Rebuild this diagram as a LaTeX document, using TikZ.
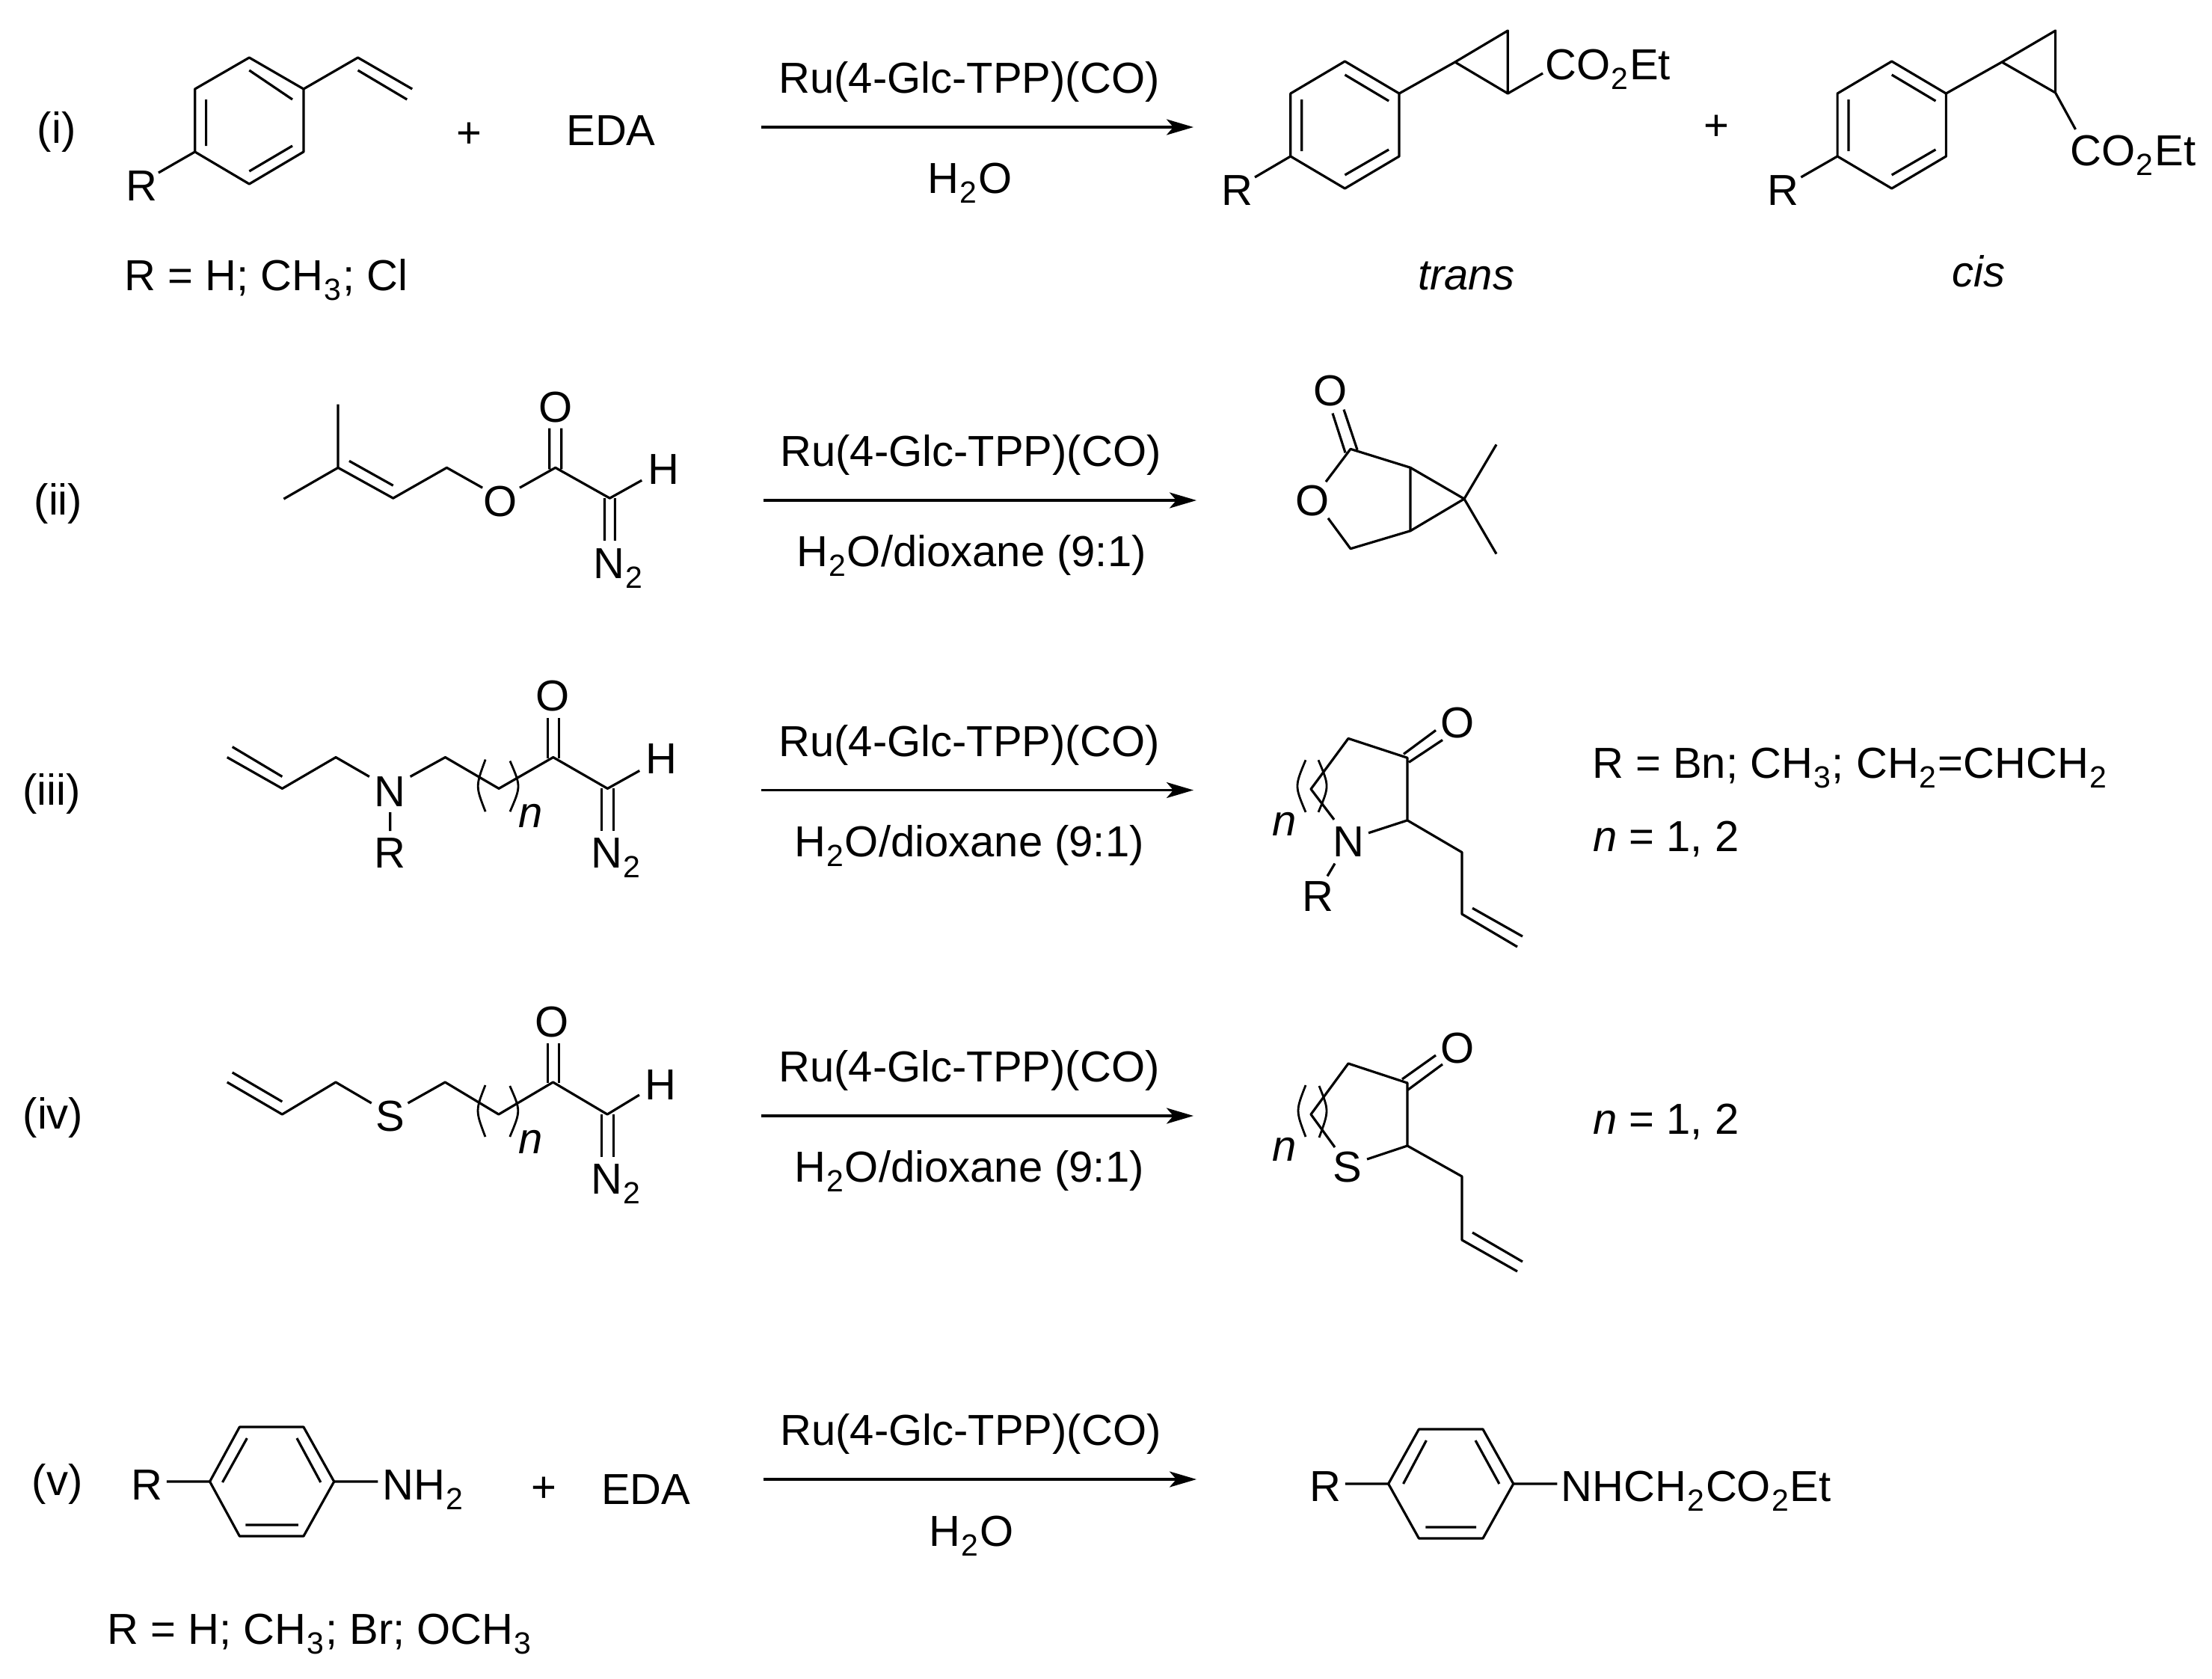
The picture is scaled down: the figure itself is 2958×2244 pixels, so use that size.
\documentclass[tikz,border=0pt]{standalone}
\usepackage{fontspec}
\setmainfont{Liberation Sans}
\usetikzlibrary{arrows.meta}
\newcommand\sbs[1]{\kern1pt\raisebox{-13pt}{\fontsize{41}{41}\selectfont #1}\kern2pt}
\tikzset{
 every node/.style={font=\fontsize{58}{62}\selectfont,inner sep=0pt,text=black},
 lab/.style={anchor=base},
 labw/.style={anchor=base west},
 bond/.style={draw=black,line width=3.2pt,line join=round},
 paren/.style={draw=black,line width=2.8pt},
 rxn/.style={draw=black,line width=3.6pt,-{Stealth[length=36pt,width=21pt,inset=9pt]}},
 fitx/.style={shift={(#1,0)},xscale=.995,shift={(-#1,0)}},
 fitxy/.style 2 args={shift={(#1,#2)},xscale=.9955,yscale=.9955,shift={(-#1,-#2)}},
 fity/.style={shift={(0,#1)},yscale=.995,shift={(0,-#1)}}
}
\begin{document}
\begin{tikzpicture}[x=1pt,y=-1pt]
\fill[white] (0,0) rectangle (2958,2244);
\useasboundingbox (0,0) rectangle (2958,2244);

% ---------- (i)
\begin{scope}[fitx=0]
\node[lab] (li) at (76,191) {(i)};
\path (335,77) coordinate (a1) (408,119) coordinate (a2) (408,203) coordinate (a3)
      (335,246) coordinate (a4) (262,203) coordinate (a5) (262,119) coordinate (a6)
      (335,94) coordinate (b1) (393,133) coordinate (b2)
      (277,133) coordinate (b3) (277,195) coordinate (b4)
      (393,195) coordinate (b5) (335,229) coordinate (b6)
      (481,77) coordinate (v1) (554,119) coordinate (v2)
      (481,94) coordinate (v3) (547,133) coordinate (v4) (213,231) coordinate (re);
\draw[bond] (a1)--(a2)--(a3)--(a4)--(a5)--(a6)--cycle;
\draw[bond] (b1)--(b2) (b3)--(b4) (b5)--(b6);
\draw[bond] (a2)--(v1)--(v2) (v3)--(v4) (a5)--(re);
\node[lab] (ri) at (190,268) {R};
\node[lab] (pi) at (631,197) {+};
\node[labw] (edai) at (761,194) {EDA};
\node[labw] (rdefi) at (167,388) {R = H; CH\sbs{3}; Cl};
\end{scope}
\path (1018,170) coordinate (ia) (1596,170) coordinate (ib);
\draw[rxn] (ia)--(ib);
\node[lab] (cati) at (1296,124) {Ru(4-Glc-TPP)(CO)};
\node[lab] (soli) at (1297,258) {H\sbs{2}O};
\begin{scope}[fitx=1500]
% trans
\path (1800,82) coordinate (t1) (1873,125) coordinate (t2) (1873,209) coordinate (t3)
      (1800,252) coordinate (t4) (1727,209) coordinate (t5) (1727,125) coordinate (t6)
      (1800,100) coordinate (u1) (1859,135) coordinate (u2)
      (1742,133) coordinate (u3) (1742,202) coordinate (u4)
      (1859,200) coordinate (u5) (1800,234) coordinate (u6)
      (1948,83) coordinate (c1) (2019,41) coordinate (c2) (2019,125) coordinate (c3)
      (2066,98) coordinate (ce) (1679,237) coordinate (te);
\draw[bond] (t1)--(t2)--(t3)--(t4)--(t5)--(t6)--cycle;
\draw[bond] (u1)--(u2) (u3)--(u4) (u5)--(u6);
\draw[bond] (t2)--(c1) (c1)--(c2)--(c3)--cycle (c3)--(ce) (t5)--(te);
\node[labw] (co1) at (2069,106) {CO\sbs{2}Et};
\node[labw] (rt) at (1634,274) {R};
\node[lab] (ptr) at (2299,187) {+};
\node[lab] (trn) at (1963,387) {\itshape trans};
% cis
\path (2535,82) coordinate (t1) (2608,125) coordinate (t2) (2608,209) coordinate (t3)
      (2535,252) coordinate (t4) (2462,209) coordinate (t5) (2462,125) coordinate (t6)
      (2535,100) coordinate (u1) (2594,135) coordinate (u2)
      (2477,133) coordinate (u3) (2477,202) coordinate (u4)
      (2594,200) coordinate (u5) (2535,234) coordinate (u6)
      (2683,83) coordinate (c1) (2755,41) coordinate (c2) (2755,124) coordinate (c3)
      (2782,173) coordinate (ce) (2413,237) coordinate (te);
\draw[bond] (t1)--(t2)--(t3)--(t4)--(t5)--(t6)--cycle;
\draw[bond] (u1)--(u2) (u3)--(u4) (u5)--(u6);
\draw[bond] (t2)--(c1) (c1)--(c2)--(c3)--cycle (c3)--(ce) (t5)--(te);
\node[labw] (co2) at (2775,221) {CO\sbs{2}Et};
\node[labw] (rc) at (2368,274) {R};
\node[lab] (cs) at (2652,383) {\itshape cis};
\end{scope}

% ---------- (ii)
\node[lab] (lii) at (78,688) {(ii)};
\begin{scope}[fitxy={250}{480}]
\path (453,541) coordinate (m1) (453,626) coordinate (m2) (380,668) coordinate (m3)
      (527,667) coordinate (m4) (468,617) coordinate (m5) (527,650) coordinate (m6)
      (599,626) coordinate (m7) (647,653) coordinate (m8) (697,653) coordinate (m9)
      (745,626) coordinate (m10) (818,667) coordinate (m11) (861,643) coordinate (m12)
      (737,573) coordinate (d1) (737,628) coordinate (d2) (753,573) coordinate (d3) (753,628) coordinate (d4)
      (811,667) coordinate (d5) (811,724) coordinate (d6) (825,667) coordinate (d7) (825,724) coordinate (d8);
\draw[bond] (m1)--(m2)--(m3) (m2)--(m4)--(m7)--(m8) (m5)--(m6);
\draw[bond] (m9)--(m10)--(m11)--(m12) (d1)--(d2) (d3)--(d4) (d5)--(d6) (d7)--(d8);
\node[lab] (o21) at (671,691) {O};
\node[lab] (o22) at (745,565) {O};
\node[lab] (h2) at (890,648) {H};
\node[labw] (n2) at (796,775) {N\sbs{2}};
\end{scope}
\path (1021,669) coordinate (iia) (1600,669) coordinate (iib);
\draw[rxn] (iia)--(iib);
\node[lab] (catii) at (1298,623.5) {Ru(4-Glc-TPP)(CO)};
\node[lab] (solii) at (1299,757) {H\sbs{2}O/dioxane (9:1)};
\begin{scope}[fity=480]
\path (1782,553) coordinate (p1) (1799,606) coordinate (p2) (1797,548) coordinate (p3) (1815,602) coordinate (p4)
      (1806,601) coordinate (p5) (1773,645) coordinate (p6) (1776,694) coordinate (p7) (1806,735) coordinate (p8)
      (1886,711) coordinate (p9) (1886,626) coordinate (p10) (1958,668) coordinate (p11)
      (2001,595) coordinate (p12) (2001,742) coordinate (p13);
\draw[bond] (p1)--(p2) (p3)--(p4) (p6)--(p5)--(p10)--(p9)--(p8)--(p7);
\draw[bond] (p10)--(p11)--(p9) (p12)--(p11)--(p13);
\node[lab] (po1) at (1779,543) {O};
\node[lab] (po2) at (1755,691) {O};
\end{scope}

% ---------- (iii)
\node[lab] (liii) at (69,1076) {(iii)};
\begin{scope}[fitxy={250}{480}]
\path (304,1015) coordinate (q1) (378,1057) coordinate (q2) (311,1001) coordinate (q3) (378,1041) coordinate (q4)
      (450,1015) coordinate (q5) (495,1041) coordinate (q6) (550,1041) coordinate (q7) (597,1015) coordinate (q8)
      (669,1057) coordinate (q9) (742,1015) coordinate (q10) (815,1057) coordinate (q11) (858,1033) coordinate (q12)
      (523,1089) coordinate (q13) (523,1114) coordinate (q14)
      (735,962) coordinate (e1) (735,1016) coordinate (e2) (750,962) coordinate (e3) (750,1016) coordinate (e4)
      (807,1057) coordinate (e5) (807,1114) coordinate (e6) (823,1057) coordinate (e7) (823,1114) coordinate (e8)
      (651,1018) coordinate (k1) (637.7,1054) coordinate (k2) (651,1088) coordinate (k3)
      (684,1020) coordinate (k4) (698.7,1054) coordinate (k5) (684,1088) coordinate (k6);
\draw[bond] (q1)--(q2)--(q5)--(q6) (q3)--(q4) (q7)--(q8)--(q9)--(q10)--(q11)--(q12) (q13)--(q14);
\draw[bond] (e1)--(e2) (e3)--(e4) (e5)--(e6) (e7)--(e8);
\draw[paren] (k1) .. controls (k2) .. (k3) (k4) .. controls (k5) .. (k6);
\node[lab] (n3) at (523,1081) {N};
\node[lab] (r3) at (523,1164) {R};
\node[lab] (o3) at (741,953) {O};
\node[lab] (h3) at (887,1037) {H};
\node[labw] (nn3) at (793,1164) {N\sbs{2}};
\node[lab] (sub3) at (712,1109) {\itshape n};
\end{scope}
\path (1018,1056.5) coordinate (iiia) (1596,1056.5) coordinate (iiib);
\draw[rxn] (iiia)--(iiib);
\node[lab] (catiii) at (1296,1011) {Ru(4-Glc-TPP)(CO)};
\node[lab] (soliii) at (1296,1145.5) {H\sbs{2}O/dioxane (9:1)};
\begin{scope}[fity=480]
\path (1877,1011) coordinate (g1) (1920,979) coordinate (g2) (1884,1022) coordinate (g3) (1929,992) coordinate (g4)
      (1882,1016) coordinate (g5) (1803,990) coordinate (g6) (1753,1058) coordinate (g7) (1784,1099) coordinate (g8)
      (1830,1117) coordinate (g9) (1882,1100) coordinate (g10) (1955,1143) coordinate (g11) (1955,1226) coordinate (g12)
      (2029,1270) coordinate (g13) (1969,1218) coordinate (g14) (2036,1256) coordinate (g15)
      (1785,1158) coordinate (g16) (1775,1175) coordinate (g17)
      (1746,1019) coordinate (k1) (1731.3,1054) coordinate (k2) (1746,1089) coordinate (k3)
      (1763,1019) coordinate (k4) (1777.7,1054) coordinate (k5) (1763,1089) coordinate (k6);
\draw[bond] (g1)--(g2) (g3)--(g4) (g10)--(g5)--(g6)--(g7)--(g8) (g9)--(g10)--(g11)--(g12)--(g13) (g14)--(g15) (g16)--(g17);
\draw[paren] (k1) .. controls (k2) .. (k3) (k4) .. controls (k5) .. (k6);
\node[lab] (o3p) at (1949,989) {O};
\node[lab] (n3p) at (1803,1149) {N};
\node[lab] (r3p) at (1762,1222) {R};
\node[lab] (sub3p) at (1718,1121) {\itshape n};
\end{scope}
\node[labw] (rdef3) at (2129,1040) {R = Bn; CH\sbs{3}; CH\sbs{2}=CHCH\sbs{2}};
\node[labw] (ndef3) at (2130,1138) {\itshape n\normalfont\ = 1, 2};

% ---------- (iv)
\node[lab] (liv) at (71,1509) {(iv)};
\begin{scope}[fitx=250]
\path (304,1447) coordinate (q1) (378,1490) coordinate (q2) (311,1434) coordinate (q3) (378,1473) coordinate (q4)
      (450,1447) coordinate (q5) (498,1475) coordinate (q6) (547,1475) coordinate (q7) (597,1447) coordinate (q8)
      (669,1490) coordinate (q9) (742,1447) coordinate (q10) (815,1490) coordinate (q11) (858,1464) coordinate (q12)
      (735,1395) coordinate (e1) (735,1448) coordinate (e2) (750,1395) coordinate (e3) (750,1448) coordinate (e4)
      (807,1490) coordinate (e5) (807,1547) coordinate (e6) (823,1490) coordinate (e7) (823,1547) coordinate (e8)
      (651,1451) coordinate (k1) (637.7,1485) coordinate (k2) (651,1520) coordinate (k3)
      (684,1452) coordinate (k4) (698.7,1485) coordinate (k5) (684,1520) coordinate (k6);
\draw[bond] (q1)--(q2)--(q5)--(q6) (q3)--(q4) (q7)--(q8)--(q9)--(q10)--(q11)--(q12);
\draw[bond] (e1)--(e2) (e3)--(e4) (e5)--(e6) (e7)--(e8);
\draw[paren] (k1) .. controls (k2) .. (k3) (k4) .. controls (k5) .. (k6);
\node[lab] (s4) at (523,1512) {S};
\node[lab] (o4) at (741,1386) {O};
\node[lab] (h4) at (887,1470) {H};
\node[labw] (nn4) at (793,1596) {N\sbs{2}};
\node[lab] (sub4) at (712,1542) {\itshape n};
\end{scope}
\path (1018,1492) coordinate (iva) (1596,1492) coordinate (ivb);
\draw[rxn] (iva)--(ivb);
\node[lab] (cativ) at (1296,1446) {Ru(4-Glc-TPP)(CO)};
\node[lab] (soliv) at (1296,1580) {H\sbs{2}O/dioxane (9:1)};
\path (1875,1443) coordinate (g1) (1920,1411) coordinate (g2) (1883,1457) coordinate (g3) (1929,1423) coordinate (g4)
      (1882,1448) coordinate (g5) (1803,1422) coordinate (g6) (1753,1490) coordinate (g7) (1785,1534) coordinate (g8)
      (1828,1550) coordinate (g9) (1882,1532) coordinate (g10) (1955,1573) coordinate (g11) (1955,1658) coordinate (g12)
      (2029,1700) coordinate (g13) (1969,1648) coordinate (g14) (2036,1687) coordinate (g15)
      (1746,1451) coordinate (k1) (1732.7,1485) coordinate (k2) (1746,1520) coordinate (k3)
      (1764,1452) coordinate (k4) (1777.3,1485) coordinate (k5) (1764,1521) coordinate (k6);
\draw[bond] (g1)--(g2) (g3)--(g4) (g10)--(g5)--(g6)--(g7)--(g8) (g9)--(g10)--(g11)--(g12)--(g13) (g14)--(g15);
\draw[paren] (k1) .. controls (k2) .. (k3) (k4) .. controls (k5) .. (k6);
\node[lab] (o4p) at (1949,1421) {O};
\node[lab] (s4p) at (1802,1580) {S};
\node[lab] (sub4p) at (1718,1552) {\itshape n};
\node[labw] (ndef4) at (2130,1516) {\itshape n\normalfont\ = 1, 2};

% ---------- (v)
\begin{scope}[fitx=0]
\node[lab] (lv) at (77,1999) {(v)};
\path (322,1908) coordinate (a1) (408,1908) coordinate (a2) (449,1981) coordinate (a3)
      (408,2054) coordinate (a4) (322,2054) coordinate (a5) (282,1981) coordinate (a6)
      (332,1923) coordinate (b1) (299,1982) coordinate (b2) (399,1923) coordinate (b3) (431,1982) coordinate (b4)
      (330,2039) coordinate (b5) (401,2039) coordinate (b6) (224,1981) coordinate (re) (508,1981) coordinate (ne);
\draw[bond] (a1)--(a2)--(a3)--(a4)--(a5)--(a6)--cycle;
\draw[bond] (b1)--(b2) (b3)--(b4) (b5)--(b6) (a6)--(re) (a3)--(ne);
\node[labw] (rv) at (176,2005) {R};
\node[labw] (nh) at (514,2005) {NH\sbs{2}};
\node[lab] (pv) at (731,2008) {+};
\node[labw] (edav) at (808,2011) {EDA};
\node[labw] (rdefv) at (144,2198) {R = H; CH\sbs{3}; Br; OCH\sbs{3}};
\end{scope}
\path (1021,1978) coordinate (va) (1600,1978) coordinate (vb);
\draw[rxn] (va)--(vb);
\node[lab] (catv) at (1298,1932) {Ru(4-Glc-TPP)(CO)};
\node[lab] (solv) at (1299,2067) {H\sbs{2}O};
\begin{scope}[fitx=1000]
\path (1902,1911) coordinate (a1) (1988,1911) coordinate (a2) (2029,1984) coordinate (a3)
      (1988,2057) coordinate (a4) (1902,2057) coordinate (a5) (1861,1984) coordinate (a6)
      (1912,1926) coordinate (b1) (1881,1984) coordinate (b2) (1978,1926) coordinate (b3) (2010,1984) coordinate (b4)
      (1911,2042) coordinate (b5) (1979,2042) coordinate (b6) (1803,1984) coordinate (re) (2088,1984) coordinate (ne);
\draw[bond] (a1)--(a2)--(a3)--(a4)--(a5)--(a6)--cycle;
\draw[bond] (b1)--(b2) (b3)--(b4) (b5)--(b6) (a6)--(re) (a3)--(ne);
\node[labw] (rvp) at (1755,2007) {R};
\node[labw] (prod) at (2093,2007) {NHCH\sbs{2}CO\sbs{2}Et};
\end{scope}
\end{tikzpicture}
\end{document}
